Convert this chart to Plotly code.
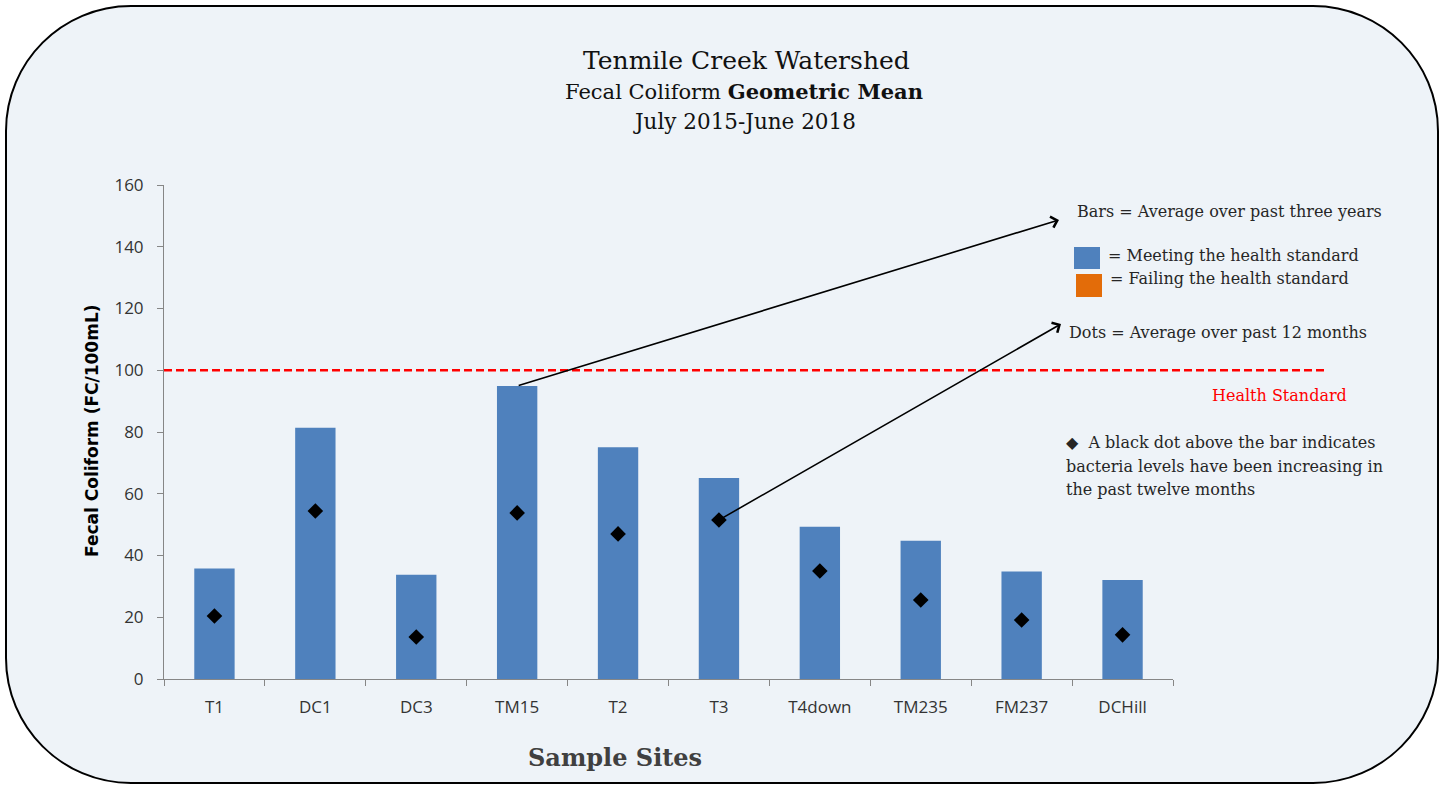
import plotly.graph_objects as go

# ---------------- data ----------------
sites = ["T1", "DC1", "DC3", "TM15", "T2", "T3", "T4down", "TM235", "FM237", "DCHill"]
three_year_mean = [35.8, 81.4, 33.8, 94.9, 75.1, 65.1, 49.3, 44.8, 34.8, 32.1]
twelve_month_mean = [20.4, 54.4, 13.6, 53.8, 47.0, 51.5, 35.0, 25.6, 19.1, 14.3]
health_standard = 100
y_tick_values = [0, 20, 40, 60, 80, 100, 120, 140, 160]

# ---------------- layout geometry (pixels) ----------------
W, H = 1447, 785
L, R, T, B = 164, 1173, 185, 679


def px(x):
    return (x - L) / (R - L)


def py(y):
    return (B - y) / (B - T)


BLUE = "#4F81BD"
ORANGE = "#E36C09"
SERIF = "DejaVu Serif"
SANS = "Open Sans"

bar_colors = [ORANGE if v > health_standard else BLUE for v in three_year_mean]

fig = go.Figure()
fig.add_trace(go.Bar(
    x=sites, y=three_year_mean, marker=dict(color=bar_colors, line=dict(width=0)),
    width=0.4, showlegend=False, hoverinfo="x+y",
))
fig.add_trace(go.Scatter(
    x=sites, y=twelve_month_mean, mode="markers",
    marker=dict(symbol="diamond", size=12, color="black"),
    showlegend=False,
))

# rounded background rectangle
left, right, top, bottom, r = 6, 1438, 6, 783, 125
k = 0.5523 * r


def P(x, y):
    return f"{px(x):.5f},{py(y):.5f}"


path = (
    f"M{P(left + r, top)} L{P(right - r, top)} "
    f"C{P(right - r + k, top)} {P(right, top + r - k)} {P(right, top + r)} "
    f"L{P(right, bottom - r)} "
    f"C{P(right, bottom - r + k)} {P(right - r + k, bottom)} {P(right - r, bottom)} "
    f"L{P(left + r, bottom)} "
    f"C{P(left + r - k, bottom)} {P(left, bottom - r + k)} {P(left, bottom - r)} "
    f"L{P(left, top + r)} "
    f"C{P(left, top + r - k)} {P(left + r - k, top)} {P(left + r, top)} Z"
)
shapes = [
    dict(type="path", path=path, xref="paper", yref="paper", layer="below",
         fillcolor="#EEF3F8", line=dict(color="black", width=2)),
    dict(type="line", xref="paper", yref="y", x0=0, x1=px(1325),
         y0=health_standard, y1=health_standard,
         line=dict(color="#FF0000", width=2.5, dash="8px,4px")),
    dict(type="rect", xref="paper", yref="paper", x0=px(1074), x1=px(1100),
         y0=py(269), y1=py(247), fillcolor=BLUE, line=dict(width=0)),
    dict(type="rect", xref="paper", yref="paper", x0=px(1076), x1=px(1102),
         y0=py(297), y1=py(274), fillcolor=ORANGE, line=dict(width=0)),
]

TXT = "#262626"
FS = 16
annotations = [
    dict(text="Tenmile Creek Watershed", x=px(746), y=py(60), font=dict(family=SERIF, size=25, color="#111")),
    dict(text="Fecal Coliform <b>Geometric Mean</b>", x=px(744), y=py(92), font=dict(family=SERIF, size=21, color="#111")),
    dict(text="July 2015-June 2018", x=px(744), y=py(122), font=dict(family=SERIF, size=21.5, color="#111")),
    dict(text="<b>Sample Sites</b>", x=px(615), y=py(757), font=dict(family=SERIF, size=24, color="#404040")),
    dict(text="<b>Fecal Coliform (FC/100mL)</b>", x=px(92), y=py(431), textangle=-90,
         font=dict(family="DejaVu Sans", size=17, color="black")),
    dict(text="Bars = Average over past three years", x=px(1075), y=py(211), xanchor="left",
         font=dict(family=SERIF, size=FS, color=TXT)),
    dict(text="= Meeting the health standard", x=px(1106), y=py(255), xanchor="left",
         font=dict(family=SERIF, size=FS, color=TXT)),
    dict(text="= Failing the health standard", x=px(1108), y=py(278), xanchor="left",
         font=dict(family=SERIF, size=FS, color=TXT)),
    dict(text="Dots = Average over past 12 months", x=px(1067), y=py(332), xanchor="left",
         font=dict(family=SERIF, size=FS, color=TXT)),
    dict(text="Health Standard", x=px(1210), y=py(395), xanchor="left",
         font=dict(family=SERIF, size=FS, color="#FF0000")),
    dict(text="◆  A black dot above the bar indicates", x=px(1064), y=py(443), xanchor="left",
         font=dict(family=SERIF, size=FS, color=TXT)),
    dict(text="bacteria levels have been increasing in", x=px(1064), y=py(466), xanchor="left",
         font=dict(family=SERIF, size=FS, color=TXT)),
    dict(text="the past twelve months", x=px(1064), y=py(489), xanchor="left",
         font=dict(family=SERIF, size=FS, color=TXT)),
]
for a in annotations:
    a.setdefault("xref", "paper")
    a.setdefault("yref", "paper")
    a.setdefault("showarrow", False)
    a.setdefault("xanchor", "center")
    a.setdefault("yanchor", "middle")

# arrows: from bar top / dot to the explanatory texts
annotations.append(dict(
    text="", xref="x", yref="y", axref="x", ayref="y",
    x=8.37, y=148.7, ax=3, ay=three_year_mean[3],
    showarrow=True, arrowhead=4, arrowsize=1.4, arrowwidth=1.6, arrowcolor="black", standoff=0,
))
annotations.append(dict(
    text="", xref="x", yref="y", axref="x", ayref="y",
    x=8.39, y=115.0, ax=5, ay=twelve_month_mean[5],
    showarrow=True, arrowhead=4, arrowsize=1.4, arrowwidth=1.6, arrowcolor="black", standoff=0,
))

fig.update_layout(
    width=W, height=H,
    margin=dict(l=L, r=W - R, t=T, b=H - B),
    paper_bgcolor="white",
    plot_bgcolor="rgba(0,0,0,0)",
    shapes=shapes,
    annotations=annotations,
    bargap=0.6,
    showlegend=False,
)
fig.update_xaxes(
    type="category", showgrid=False, showline=True, linecolor="#868686", linewidth=1,
    ticks="outside", tickson="boundaries", ticklen=6, tickcolor="#868686",
    tickfont=dict(family=SANS, size=17, color="#333"), ticklabelstandoff=13,
    range=[-0.5, 9.5], zeroline=False,
)
fig.update_yaxes(
    range=[0, 160], tickvals=y_tick_values, showgrid=False, showline=True,
    linecolor="#868686", linewidth=1, ticks="outside", ticklen=6, tickcolor="#868686",
    tickfont=dict(family=SANS, size=17, color="#333"), ticklabelstandoff=10, zeroline=False,
)

fig.write_html("out.html", config={"displayModeBar": False},
               post_script="document.body.style.margin='0px';")
